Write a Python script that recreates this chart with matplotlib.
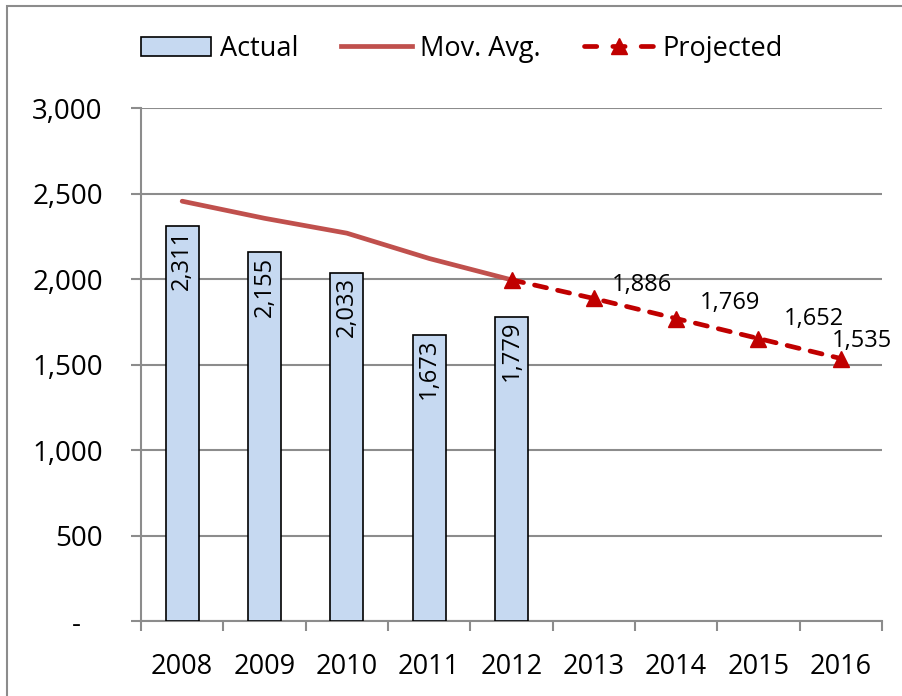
import numpy as np
import matplotlib
matplotlib.use("Agg")
import matplotlib.pyplot as plt
from matplotlib.patches import Rectangle, Patch
from matplotlib.lines import Line2D
from matplotlib.ticker import FuncFormatter, FixedLocator

YEARS = ["2008", "2009", "2010", "2011", "2012", "2013", "2014", "2015", "2016"]
ACTUAL = [2311, 2155, 2033, 1673, 1779]
MOV_AVG = [2455, 2355, 2268, 2120, 1995]
PROJECTED = [np.nan, np.nan, np.nan, np.nan, 1995, 1886, 1769, 1652, 1535]
PROJ_LABELED = [5, 6, 7, 8]

# pixel offsets of the projected value labels (left edge, centre)
LABEL_OFFSETS = [(18, 13), (24, 16), (25, 20), (-9, 18)]

BAR_COLOR = "#C6D9F1"
MA_COLOR = "#C0504D"
PROJ_COLOR = "#C00000"
GRID_COLOR = "#8C8C8C"
LW = 3.4
DASH = (0, (2.6, 2.4))
LEG_DASH = (0, (2.6, 3.4))  # so the legend sample ends on a dash

plt.rcParams["font.family"] = ["Open Sans", "DejaVu Sans"]

W, H = 902, 696
fig = plt.figure(figsize=(W / 100, H / 100), dpi=100)
ax = fig.add_axes([141 / W, 1 - 621 / H, (882 - 141) / W, (621 - 108) / H])

x = np.arange(len(YEARS))
ax.bar(x[:len(ACTUAL)], ACTUAL, width=0.4, color=BAR_COLOR,
       edgecolor="black", linewidth=1.2, zorder=3)
ax.plot(x[:len(MOV_AVG)], MOV_AVG, color=MA_COLOR, linewidth=LW,
        solid_capstyle="round", zorder=4)
ax.plot(x, PROJECTED, color=PROJ_COLOR, linewidth=LW, linestyle=DASH,
        dash_capstyle="round", marker="^", markersize=11, zorder=5)

for xi, v in zip(x, ACTUAL):
    ax.annotate(f"{v:,}", (xi, v), xytext=(0, -4), textcoords="offset pixels",
                rotation=90, ha="center", va="top", fontsize=17, zorder=6)

for i, (dx, dy) in zip(PROJ_LABELED, LABEL_OFFSETS):
    ax.annotate(f"{PROJECTED[i]:,}", (x[i], PROJECTED[i]), xytext=(dx, dy),
                textcoords="offset pixels", ha="left", va="center",
                fontsize=17, zorder=6)

ax.set_xlim(-0.5, len(YEARS) - 0.5)
ax.set_ylim(0, 3000)
ax.set_yticks(np.arange(0, 3001, 500))
ax.yaxis.set_major_formatter(FuncFormatter(lambda v, p: "-   " if v == 0 else f"{int(v):,}"))
ax.grid(axis="y", color=GRID_COLOR, linewidth=1.5, zorder=0)

ax.set_xticks(x)
ax.set_xticklabels(YEARS)
ax.xaxis.set_minor_locator(FixedLocator(np.arange(-0.5, len(YEARS), 1.0)))
ax.tick_params(axis="x", which="major", length=0, pad=23, labelsize=19.5)
ax.tick_params(axis="x", which="minor", length=7.5, width=1.5, color=GRID_COLOR)
ax.tick_params(axis="y", length=7.5, width=1.5, color=GRID_COLOR, pad=20, labelsize=20)

for side in ["top", "right"]:
    ax.spines[side].set_visible(False)
for side in ["left", "bottom"]:
    ax.spines[side].set_color(GRID_COLOR)
    ax.spines[side].set_linewidth(1.5)

handles = [
    Patch(facecolor=BAR_COLOR, edgecolor="black", linewidth=1.2),
    Line2D([], [], color=MA_COLOR, linewidth=LW),
    Line2D([], [], color=PROJ_COLOR, linewidth=LW, linestyle=LEG_DASH,
           dash_capstyle="round", marker="^", markersize=11),
]
fig.legend(handles, ["Actual", "Mov. Avg.", "Projected"], loc="center left",
           bbox_to_anchor=(141 / W, 1 - 49 / H), ncol=3, frameon=False,
           fontsize=19.5, handlelength=2.6, handleheight=0.75,
           handletextpad=0.3, columnspacing=1.6, borderpad=0, borderaxespad=0)

fig.add_artist(Rectangle((7 / W, -0.1), 1.2, 1.1 - 6 / H, transform=fig.transFigure,
                         fill=False, edgecolor=GRID_COLOR, linewidth=1.5))

fig.savefig("out.png", dpi=100)
